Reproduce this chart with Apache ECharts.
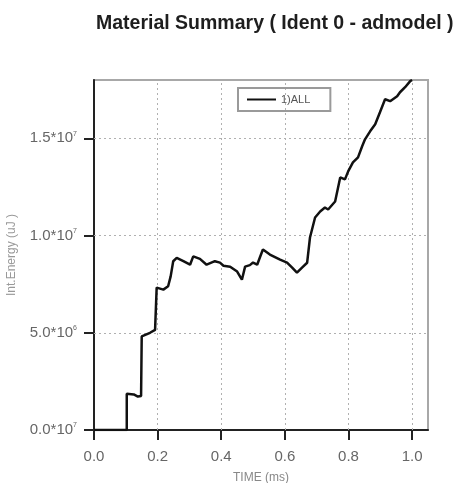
<!DOCTYPE html>
<html>
<head>
<meta charset="utf-8">
<style>
  html, body { margin: 0; padding: 0; background: #fff; }
  #chart { width: 461px; height: 483px; }
</style>
<script src="https://cdn.jsdelivr.net/npm/echarts@6/dist/echarts.min.js"></script>
</head>
<body>
<div id="chart"></div>
<script>
// Internal energy history for material group 1)ALL
// time in ms, energy in units of 10^7 uJ
const timeMs = [
  0.0, 0.103, 0.103, 0.125, 0.138, 0.148, 0.150, 0.176, 0.192, 0.197,
  0.218, 0.233, 0.241, 0.249, 0.260, 0.281, 0.302, 0.312, 0.333, 0.354,
  0.380, 0.396, 0.407, 0.428, 0.450, 0.465, 0.475, 0.490, 0.500, 0.513,
  0.522, 0.531, 0.553, 0.585, 0.607, 0.623, 0.638, 0.654, 0.670, 0.679,
  0.695, 0.711, 0.726, 0.736, 0.758, 0.774, 0.789, 0.799, 0.814, 0.830,
  0.843, 0.852, 0.868, 0.884, 0.899, 0.915, 0.931, 0.953, 0.962, 0.978,
  0.994, 1.000
];
const energyE7 = [
  0.0, 0.0, 0.186, 0.183, 0.172, 0.175, 0.481, 0.500, 0.515, 0.732,
  0.722, 0.739, 0.790, 0.868, 0.885, 0.868, 0.850, 0.893, 0.880, 0.850,
  0.868, 0.861, 0.845, 0.840, 0.815, 0.773, 0.840, 0.848, 0.861, 0.850,
  0.890, 0.928, 0.902, 0.876, 0.861, 0.835, 0.809, 0.835, 0.860, 0.990,
  1.093, 1.124, 1.144, 1.134, 1.175, 1.299, 1.289, 1.330, 1.376, 1.402,
  1.459, 1.495, 1.536, 1.572, 1.634, 1.701, 1.691, 1.716, 1.737, 1.763,
  1.794, 1.800
];
const xTicks = [0.0, 0.2, 0.4, 0.6, 0.8, 1.0];
const yTicks = [0.0, 0.5, 1.0, 1.5];
const yTickMantissas = ['0.0', '5.0', '1.0', '1.5'];
const yTickExponents = ['7', '6', '7', '7'];
const seriesName = '1)ALL';

const points = timeMs.map((t, i) => [t, energyE7[i]]);

const font = 'Liberation Sans, Arial, sans-serif';
const chart = echarts.init(document.getElementById('chart'), null, { renderer: 'canvas' });

chart.setOption({
  animation: false,
  backgroundColor: '#fff',
  title: {
    text: 'Material Summary ( Ident 0 - admodel )',
    left: 91,
    top: 9,
    textStyle: { fontFamily: font, fontSize: 19.5, fontWeight: 'bold', color: '#1e1e1e' }
  },
  legend: {
    data: [{ name: seriesName, icon: 'rect' }],
    left: 238,
    top: 88,
    orient: 'horizontal',
    borderColor: '#9a9a9a',
    borderWidth: 2,
    borderRadius: 0,
    padding: [6, 20, 6, 9],
    itemWidth: 29,
    itemHeight: 2,
    itemGap: 6,
    textStyle: { fontFamily: font, fontSize: 11, color: '#555' }
  },
  grid: {
    left: 94,
    right: 33,
    top: 80,
    bottom: 53,
    containLabel: false,
    outerBoundsMode: 'none',
    show: true,
    borderColor: '#a8a8a8',
    borderWidth: 2,
    backgroundColor: '#fff'
  },
  xAxis: {
    type: 'value',
    min: 0,
    max: 1.05,
    name: 'TIME (ms)',
    nameLocation: 'middle',
    nameGap: 42,
    nameTextStyle: { fontFamily: font, fontSize: 12, color: '#888' },
    axisLine: { show: true, onZero: false, lineStyle: { color: '#222', width: 2 } },
    axisTick: { show: true, inside: false, length: 10, customValues: xTicks, lineStyle: { color: '#222', width: 2 } },
    axisLabel: {
      margin: 19,
      fontFamily: font, fontSize: 15, color: '#666',
      customValues: xTicks,
      formatter: v => v.toFixed(1)
    },
    splitLine: { show: false }
  },
  yAxis: {
    type: 'value',
    min: 0,
    max: 1.8,
    name: 'Int.Energy (uJ )',
    nameLocation: 'middle',
    nameGap: 76,
    nameTextStyle: { fontFamily: font, fontSize: 12, color: '#999' },
    axisLine: { show: true, onZero: false, lineStyle: { color: '#222', width: 2 } },
    axisTick: { show: true, inside: false, length: 10, customValues: yTicks, lineStyle: { color: '#222', width: 2 } },
    axisLabel: {
      margin: 17,
      fontFamily: font, fontSize: 15, color: '#666',
      customValues: yTicks,
      formatter: (v) => {
        const idx = Math.round(v / 0.5);
        return '{m|' + yTickMantissas[idx] + '*10}{e|' + yTickExponents[idx] + '}';
      },
      rich: {
        m: { fontFamily: font, fontSize: 15, color: '#666' },
        e: { fontFamily: font, fontSize: 7, color: '#666', verticalAlign: 'top', padding: [0, 0, 9, 0] }
      }
    },
    splitLine: { show: false }
  },
  series: [{
    name: seriesName,
    type: 'line',
    data: points,
    showSymbol: false,
    symbol: 'none',
    lineStyle: { color: '#111', width: 2.5 },
    itemStyle: { color: '#111' },
    z: 5,
    // dotted grid lines at the tick positions
    markLine: {
      silent: true,
      symbol: 'none',
      label: { show: false },
      lineStyle: { color: '#b0b0b0', type: [2, 3], width: 1 },
      z: 1,
      data: xTicks.filter(v => v > 0).map(v => ({ xAxis: v }))
        .concat(yTicks.filter(v => v > 0).map(v => ({ yAxis: v })))
    }
  }]
});
</script>
</body>
</html>
